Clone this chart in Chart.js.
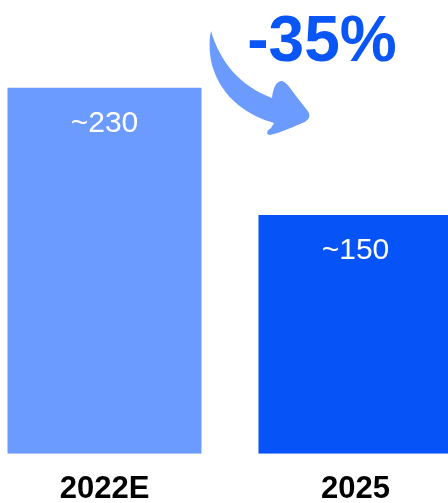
<!DOCTYPE html>
<html>
<head>
<meta charset="utf-8">
<script src="https://cdn.jsdelivr.net/npm/chart.js@4"></script>
<style>
  html, body { margin: 0; padding: 0; background: #fff; overflow: hidden; }
  body { width: 448px; height: 503px; position: relative; }
  #wrap { position: absolute; left: -21px; top: 0; width: 502px; height: 525px; }
</style>
</head>
<body>
<div id="wrap"><canvas id="myChart"></canvas></div>
<script>
const categories = ['2022E', '2025'];
const values = [230, 150];
const valueLabels = ['~230', '~150'];
const changeLabel = '-35%';

const barColors = ['#6b9bff', '#0654f8'];
const OFFSET_X = 21; // canvas x = page x + OFFSET_X

// white value labels inside the bars
const valueLabelPlugin = {
  id: 'valueLabels',
  afterDatasetsDraw(chart) {
    const c = chart.ctx;
    const meta = chart.getDatasetMeta(0);
    c.save();
    c.fillStyle = '#ffffff';
    c.font = '30px "Liberation Sans", Arial, sans-serif';
    c.textAlign = 'center';
    c.textBaseline = 'alphabetic';
    meta.data.forEach((bar, i) => {
      c.fillText(valueLabels[i], bar.x, bar.y + 44);
    });
    c.restore();
  }
};

// curved arrow and the change label
const arrowPlugin = {
  id: 'arrow',
  afterDraw(chart) {
    const c = chart.ctx;
    c.save();
    c.translate(OFFSET_X, 0);
    c.fillStyle = '#6b9bff';
    c.beginPath();
    c.moveTo(211, 31);
    c.bezierCurveTo(220, 62, 240, 86, 272, 98);
    c.bezierCurveTo(273, 90, 275, 82, 281, 81);
    c.bezierCurveTo(286, 81, 290, 88, 296, 96);
    c.lineTo(307, 110);
    c.bezierCurveTo(312, 116, 309, 121, 300, 124);
    c.bezierCurveTo(290, 128, 280, 133, 270, 135);
    c.bezierCurveTo(266, 135, 266, 131, 271, 128);
    c.lineTo(274, 123);
    c.bezierCurveTo(250, 116, 222, 100, 212, 65);
    c.bezierCurveTo(209, 52, 209, 40, 211, 31);
    c.closePath();
    c.fill();

    c.fillStyle = '#0a55f5';
    c.font = 'bold 64px "Liberation Sans", Arial, sans-serif';
    c.textAlign = 'center';
    c.textBaseline = 'alphabetic';
    c.fillText(changeLabel, 322, 61);
    c.restore();
  }
};

const ctx = document.getElementById('myChart');

new Chart(ctx, {
  type: 'bar',
  data: {
    labels: categories,
    datasets: [{
      data: values,
      backgroundColor: barColors,
      borderWidth: 0,
      categoryPercentage: 1,
      barPercentage: 0.773
    }]
  },
  options: {
    responsive: true,
    maintainAspectRatio: false,
    animation: false,
    layout: { padding: { top: 40, left: 0, right: 0, bottom: 0 } },
    plugins: {
      legend: { display: false },
      tooltip: { enabled: false }
    },
    scales: {
      y: {
        display: false,
        min: 0,
        max: 260
      },
      x: {
        grid: { display: false, drawTicks: false },
        border: { display: false },
        ticks: {
          color: '#000000',
          padding: 17,
          font: { family: '"Liberation Sans", Arial, sans-serif', size: 31, weight: 'bold' }
        }
      }
    }
  },
  plugins: [valueLabelPlugin, arrowPlugin]
});
</script>
</body>
</html>
